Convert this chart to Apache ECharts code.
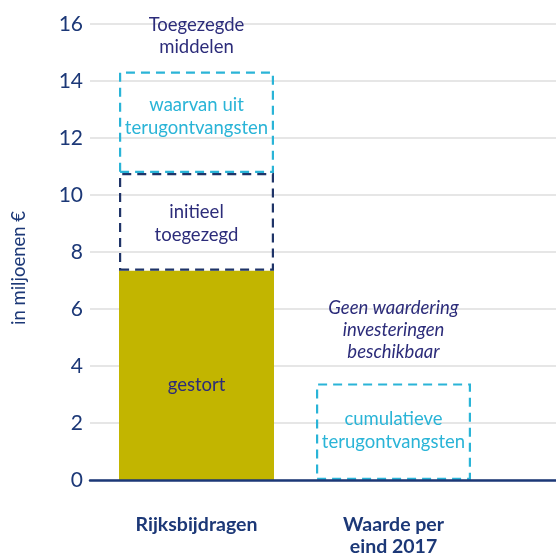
<!DOCTYPE html>
<html>
<head>
<meta charset="utf-8">
<script src="https://cdn.jsdelivr.net/npm/echarts@6/dist/echarts.min.js"></script>
<style>
  html, body { margin: 0; padding: 0; background: #ffffff; }
  #chart { width: 556px; height: 555px; }
</style>
</head>
<body>
<div id="chart"></div>
<script>
// Categories on the x axis
const categories = ['Rijksbijdragen', 'Waarde per\neind 2017'];
// Cumulative levels for the first column (miljoenen €)
const gestort = 7.34;            // paid out
const initieelToegezegd = 10.77; // initially committed (top of second block)
const toegezegdTotaal = 14.33;   // total committed incl. repayments
// Second column: cumulative repayments
const cumulatieveTerug = 3.39;
// Y axis ticks
const yMin = 0, yMax = 16, yStep = 2;

const FONT = 'Lato, "Noto Sans", sans-serif';
const NAVY = '#1c3877';
const INDIGO = '#2c2c7a';
const CYAN = '#2ab4d7';
const DASH_NAVY = '#1f3468';
const OLIVE = '#c2b500';

const TOP = 24, BOTTOM = 75;
const TXT = 18.5;

const chart = echarts.init(document.getElementById('chart'));
chart.setOption({
  animation: false,
  textStyle: { fontFamily: FONT },
  grid: [
    { left: 98, width: 394, top: TOP, bottom: BOTTOM, outerBoundsMode: 'none', containLabel: false },   // bars
    { left: 90, right: 0, top: TOP, bottom: BOTTOM, outerBoundsMode: 'none', containLabel: false }      // value scale
  ],
  xAxis: [
    {
      gridIndex: 0, type: 'category', data: categories,
      axisLine: { show: false }, axisTick: { show: false },
      axisLabel: {
        color: NAVY, fontSize: 19.5, fontWeight: 'bold', fontFamily: FONT,
        margin: 34, lineHeight: 22, verticalAlign: 'top'
      }
    },
    {
      gridIndex: 1, type: 'value', min: 0, max: 1, z: 5,
      axisLine: { show: true, lineStyle: { color: NAVY, width: 2.5 } },
      axisTick: { show: false }, axisLabel: { show: false }, splitLine: { show: false }
    }
  ],
  yAxis: [
    { gridIndex: 0, type: 'value', min: yMin, max: yMax, interval: yStep, show: false },
    {
      gridIndex: 1, type: 'value', min: yMin, max: yMax, interval: yStep,
      name: 'in miljoenen €', nameLocation: 'middle', nameGap: 61, nameRotate: 90,
      nameTextStyle: { color: NAVY, fontSize: 18.5, fontFamily: FONT, padding: [0, 32, 0, 0] },
      axisLine: { show: false }, axisTick: { show: false },
      axisLabel: { color: NAVY, fontSize: 21, margin: 7, fontFamily: FONT },
      splitLine: { lineStyle: { color: '#e6e6e6', width: 2 } }
    }
  ],
  series: [
    {
      name: 'gestort', type: 'bar', xAxisIndex: 0, yAxisIndex: 0, stack: 'a',
      barWidth: 155, z: 2,
      data: [gestort, '-'],
      itemStyle: { color: OLIVE },
      label: {
        show: true, position: 'inside', formatter: 'gestort', offset: [0, 10],
        color: INDIGO, fontSize: TXT, fontFamily: FONT
      }
    },
    {
      name: 'initieel', type: 'bar', xAxisIndex: 0, yAxisIndex: 0, stack: 'a',
      barWidth: 155, z: 4,
      data: [initieelToegezegd - gestort, '-'],
      itemStyle: { color: 'rgba(0,0,0,0)', borderColor: DASH_NAVY, borderWidth: 2.2, borderType: [9, 6] },
      label: {
        show: true, position: 'inside', formatter: 'initieel\ntoegezegd', offset: [0, 2],
        color: INDIGO, fontSize: TXT, lineHeight: 23, fontFamily: FONT
      }
    },
    {
      name: 'terug', type: 'bar', xAxisIndex: 0, yAxisIndex: 0, stack: 'a',
      barWidth: 155, z: 3,
      data: [
        { value: toegezegdTotaal - initieelToegezegd,
          label: { formatter: 'waarvan uit\nterugontvangsten', offset: [0, -6] } },
        { value: cumulatieveTerug,
          label: { formatter: 'cumulatieve\nterugontvangsten', offset: [0, -1] } }
      ],
      itemStyle: { color: 'rgba(0,0,0,0)', borderColor: CYAN, borderWidth: 2.2, borderType: [9, 6] },
      label: {
        show: true, position: 'inside',
        color: CYAN, fontSize: TXT, lineHeight: 23, fontFamily: FONT
      }
    },
    {
      // transparent overlay carrying the headings above each column
      name: 'kop', type: 'bar', xAxisIndex: 0, yAxisIndex: 0,
      barWidth: 155, barGap: '-100%', z: 1,
      data: [
        { value: toegezegdTotaal,
          label: { formatter: 'Toegezegde\nmiddelen', distance: 14 } },
        { value: cumulatieveTerug,
          label: { formatter: 'Geen waardering\ninvesteringen\nbeschikbaar', fontStyle: 'italic', distance: 20 } }
      ],
      itemStyle: { color: 'rgba(0,0,0,0)' },
      label: {
        show: true, position: 'top',
        color: INDIGO, fontSize: TXT, lineHeight: 22, fontFamily: FONT
      }
    }
  ]
});
</script>
</body>
</html>
